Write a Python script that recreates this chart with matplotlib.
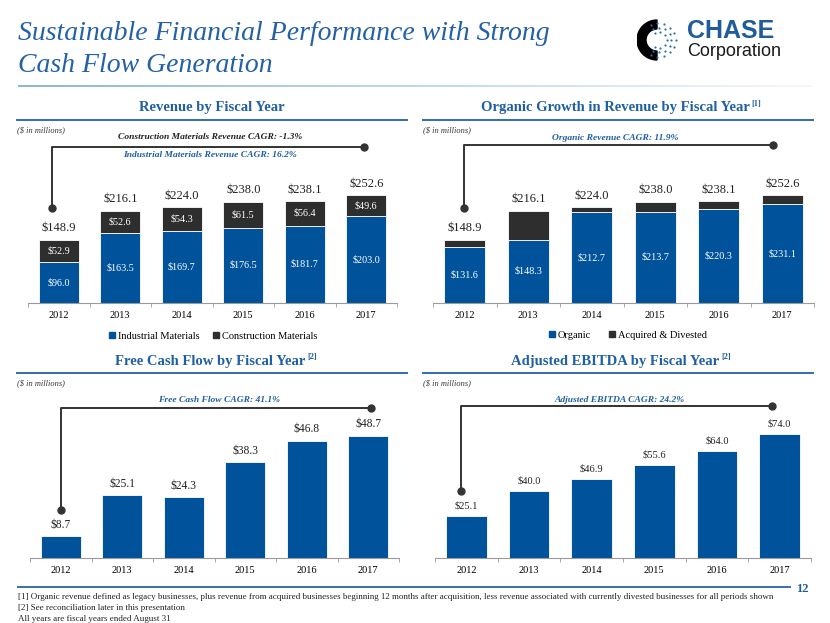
import matplotlib
matplotlib.use('Agg')
import matplotlib.pyplot as plt
import numpy as np
from matplotlib.lines import Line2D
from matplotlib.patches import Wedge
from matplotlib.collections import LineCollection

plt.rcParams['font.family'] = ['Liberation Serif', 'DejaVu Serif']

# --- data ($ in millions) ---
years = ['2012', '2013', '2014', '2015', '2016', '2017']
industrial = [96.0, 163.5, 169.7, 176.5, 181.7, 203.0]
construction = [52.9, 52.6, 54.3, 61.5, 56.4, 49.6]
revenue_total = [148.9, 216.1, 224.0, 238.0, 238.1, 252.6]
organic = [131.6, 148.3, 212.7, 213.7, 220.3, 231.1]
acquired = [17.3, 67.8, 11.3, 24.3, 17.8, 21.5]
fcf = [8.7, 25.1, 24.3, 38.3, 46.8, 48.7]
ebitda = [25.1, 40.0, 46.9, 55.6, 64.0, 74.0]

BLUE = '#00539B'
DARK = '#2E2E2E'
HEAD = '#1F5FA3'
W, H = 830, 623

fig = plt.figure(figsize=(W / 100, H / 100), dpi=100)


def fx(x):
    return x / W


def fy(y):
    return 1 - y / H


def ftext(x, y, s, **kw):
    return fig.text(fx(x), fy(y), s, **kw)


def fline(xs, ys, **kw):
    fig.add_artist(Line2D([fx(x) for x in xs], [fy(y) for y in ys],
                          transform=fig.transFigure, **kw))


def bar_axes(x0, x1, ybase, ytop, ymax):
    ax = fig.add_axes([fx(x0), fy(ybase), (x1 - x0) / W, (ybase - ytop) / H])
    ax.set_xlim(-0.5, 5.5)
    ax.set_ylim(0, ymax)
    for s in ['top', 'right', 'left']:
        ax.spines[s].set_visible(False)
    ax.spines['bottom'].set_color('#9a9a9a')
    ax.spines['bottom'].set_linewidth(0.8)
    ax.set_yticks([])
    ax.set_xticks(range(len(years)))
    ax.set_xticklabels(years, fontsize=7.5)
    ax.set_xticks(np.arange(-0.5, 6, 1), minor=True)
    ax.tick_params(axis='x', which='major', length=0, pad=6)
    ax.tick_params(axis='x', which='minor', length=3, color='#9a9a9a')
    ax.patch.set_alpha(0)
    return ax


def header(cx, y, x0, x1, title, sup=None):
    t = ftext(cx - (5 if sup else 0), y, title, ha='center', va='center',
              fontsize=10.5, fontweight='bold', color=HEAD)
    if sup:
        fig.add_artist(matplotlib.text.Annotation(
            sup, xy=(1.0, 0.8), xycoords=t, xytext=(1.5, 0), textcoords='offset points',
            ha='left', va='center', fontsize=6, fontweight='bold', color=HEAD))
    fline([x0, x1], [y + 12, y + 12], color='#2F6DB0', lw=1.4)
    ftext(x0, y + 22, '($ in millions)', ha='left', va='center',
          fontsize=6, style='italic', color='#333333')


def bracket(xl, yl, xr, ytop):
    fline([xl, xl, xr], [yl, ytop, ytop], color='#333333', lw=1.4)
    fline([xl, xr], [yl, ytop], color='#333333', ls='none', marker='o', ms=5)


def totals(ax, vals, size):
    for i, v in enumerate(vals):
        ax.annotate(f'${v:.1f}', (i, v), xytext=(0, 4), textcoords='offset points',
                    ha='center', va='bottom', fontsize=size, color='#222222')


# --- main title ---
ftext(18, 33, 'Sustainable Financial Performance with Strong', ha='left', va='center',
      fontsize=20, style='italic', color='#2360A5')
ftext(18, 66, 'Cash Flow Generation', ha='left', va='center',
      fontsize=20, style='italic', color='#2360A5')
gx = np.linspace(18, 812, 80)
segs = [[(fx(gx[k]), fy(86)), (fx(gx[k + 1]), fy(86))] for k in range(len(gx) - 1)]
fade = np.linspace(1, 0.1, len(segs))
gcol = [(0.55, 0.70, 0.85, a) for a in fade]
fig.add_artist(LineCollection(segs, colors=gcol, linewidths=1.4, transform=fig.transFigure))

# --- logo ---
lax = fig.add_axes([fx(637), fy(61), 44 / W, 42 / H])
lax.set_xlim(-1.0, 1.2)
lax.set_ylim(-1.05, 1.05)
lax.set_aspect('equal')
lax.axis('off')
lax.add_patch(Wedge((0, 0), 1.0, 90, 270, width=0.45, color='black'))
for r, n in [(0.4, 7), (0.62, 9), (0.84, 11)]:
    ang = np.radians(np.linspace(-120, 120, n))
    lax.scatter(r * np.cos(ang) + 0.1, r * np.sin(ang), s=2.5, color='#2B6CB0', lw=0)
ftext(687, 31, 'CHASE', ha='left', va='center', fontsize=18, fontweight='bold',
      color='#1F5C99', family=['Liberation Sans', 'DejaVu Sans'])
ftext(687, 51, 'Corporation', ha='left', va='center', fontsize=13,
      color='#1a1a1a', family=['Liberation Sans', 'DejaVu Sans'])

x = np.arange(len(years))
bw = 0.65

# --- Revenue by Fiscal Year ---
header(212, 108, 17, 407, 'Revenue by Fiscal Year')
ax1 = bar_axes(28, 397, 303, 190, 265)
ax1.bar(x, industrial, bw, color=BLUE, edgecolor='white', lw=0.6)
ax1.bar(x, construction, bw, bottom=industrial, color=DARK, edgecolor='white', lw=0.6)
for i in range(len(years)):
    ax1.text(i, industrial[i] / 2, f'${industrial[i]:.1f}', ha='center', va='center',
             color='white', fontsize=7.3)
    ax1.text(i, industrial[i] + construction[i] / 2, f'${construction[i]:.1f}',
             ha='center', va='center', color='white', fontsize=7.3)
totals(ax1, revenue_total, 9)
ftext(210, 137, 'Construction Materials Revenue CAGR: -1.3%', ha='center', va='center',
      fontsize=6.8, fontweight='bold', style='italic', color='#222222')
ftext(210, 155, 'Industrial Materials Revenue CAGR: 16.2%', ha='center', va='center',
      fontsize=6.8, fontweight='bold', style='italic', color=HEAD)
bracket(52, 208, 364, 147)
h1 = [Line2D([], [], marker='s', ls='none', color=BLUE, ms=4.5),
      Line2D([], [], marker='s', ls='none', color=DARK, ms=4.5)]
fig.legend(h1, ['Industrial Materials', 'Construction Materials'], loc='center',
           bbox_to_anchor=(fx(212), fy(336)), ncol=2, frameon=False, fontsize=7.5,
           handletextpad=0.1, columnspacing=1.0, handlelength=1.0)

# --- Organic Growth in Revenue ---
header(620, 108, 423, 813, 'Organic Growth in Revenue by Fiscal Year', '[1]')
ax2 = bar_axes(433, 814, 303, 190, 265)
ax2.bar(x, organic, bw, color=BLUE, edgecolor='white', lw=0.6)
ax2.bar(x, acquired, bw, bottom=organic, color=DARK, edgecolor='white', lw=0.6)
for i in range(len(years)):
    ax2.text(i, organic[i] / 2, f'${organic[i]:.1f}', ha='center', va='center',
             color='white', fontsize=7.3)
totals(ax2, revenue_total, 9)
ftext(615, 138, 'Organic Revenue CAGR: 11.9%', ha='center', va='center',
      fontsize=6.8, fontweight='bold', style='italic', color=HEAD)
bracket(464, 208, 773, 145)
h2 = [Line2D([], [], marker='s', ls='none', color=BLUE, ms=4.5),
      Line2D([], [], marker='s', ls='none', color=DARK, ms=4.5)]
fig.legend(h2, ['Organic', 'Acquired & Divested'], loc='center',
           bbox_to_anchor=(fx(627), fy(335)), ncol=2, frameon=False, fontsize=7.5,
           handletextpad=0.1, columnspacing=1.5, handlelength=1.0)

# --- Free Cash Flow ---
header(215, 361, 17, 407, 'Free Cash Flow by Fiscal Year', '[2]')
ax3 = bar_axes(30, 399, 558, 430, 51.1)
ax3.bar(x, fcf, bw, color=BLUE, edgecolor='white', lw=0.6)
totals(ax3, fcf, 8.3)
ftext(219, 400, 'Free Cash Flow CAGR: 41.1%', ha='center', va='center',
      fontsize=6.8, fontweight='bold', style='italic', color=HEAD)
bracket(61, 510, 371, 408)

# --- Adjusted EBITDA ---
header(620, 361, 423, 813, 'Adjusted EBITDA by Fiscal Year', '[2]')
ax4 = bar_axes(435, 811, 558, 430, 76.4)
ax4.bar(x, ebitda, bw, color=BLUE, edgecolor='white', lw=0.6)
totals(ax4, ebitda, 7.5)
ftext(620, 400, 'Adjusted EBITDA CAGR: 24.2%', ha='center', va='center',
      fontsize=6.8, fontweight='bold', style='italic', color=HEAD)
bracket(461, 491, 772, 406)

# --- footer ---
fline([18, 790], [587, 587], color='#3A6EA8', lw=1.4)
ftext(809, 589, '12', ha='right', va='center', fontsize=9, fontweight='bold', color='#1F5C99')
notes = ['[1] Organic revenue defined as legacy businesses, plus revenue from acquired businesses '
         'beginning 12 months after acquisition, less revenue associated with currently divested '
         'businesses for all periods shown',
         '[2] See reconciliation later in this presentation',
         'All years are fiscal years ended August 31']
for k, n in enumerate(notes):
    ftext(18, 597 + k * 11, n, ha='left', va='center', fontsize=6.5, color='#222222')

fig.savefig('out.png', dpi=100)
